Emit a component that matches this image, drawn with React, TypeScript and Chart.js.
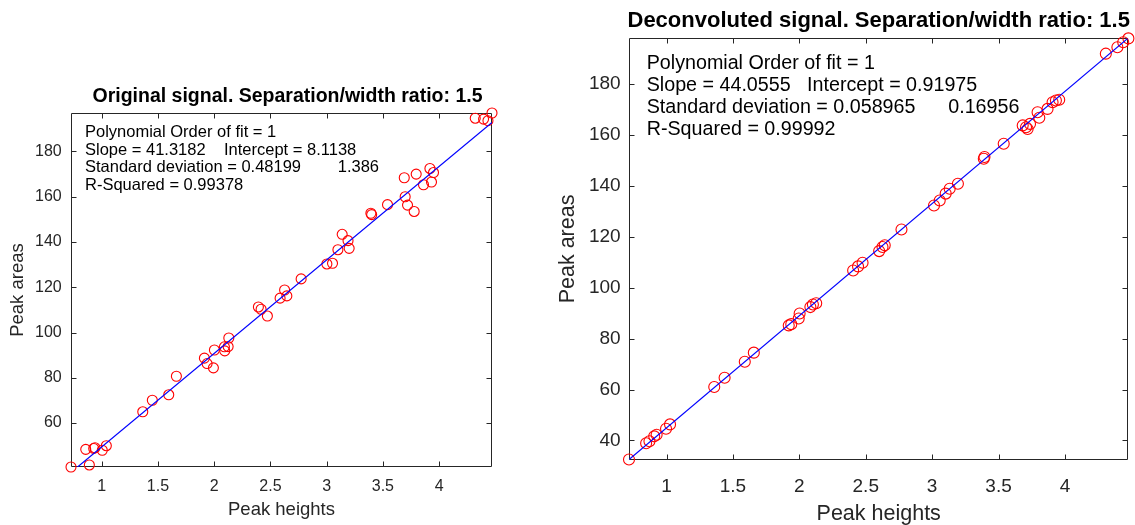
import { useEffect, useRef } from "react";
import { Chart, registerables } from "chart.js";

Chart.register(...registerables);

const FONT = "'Liberation Sans', Arial, Helvetica, sans-serif";
const AXIS_COLOR = "#262626";

// ---- shared tick labels ----
const xTicks = [1, 1.5, 2, 2.5, 3, 3.5, 4];
const origYTicks = [60, 80, 100, 120, 140, 160, 180];
const decYTicks = [40, 60, 80, 100, 120, 140, 160, 180];

// ---- Original signal ----
const origTitle = "Original signal. Separation/width ratio: 1.5";
const origHeights = [
  0.727, 0.858, 0.89, 0.929, 0.94, 1.005, 1.041, 1.365, 1.45, 1.596, 1.664, 1.913,
  1.937, 1.993, 2.002, 2.091, 2.094, 2.124, 2.13, 2.393, 2.417, 2.473, 2.586, 2.626,
  2.646, 2.773, 3.002, 3.052, 3.1, 3.138, 3.19, 3.2, 3.393, 3.4, 3.541, 3.69,
  3.698, 3.719, 3.778, 3.796, 3.861, 3.918, 3.932, 3.95, 4.321, 4.395, 4.434, 4.47,
];
const origAreas = [
  40.6, 48.4, 41.5, 48.8, 49.1, 48.0, 50.0, 65.0, 70.1, 72.5, 80.7, 88.7,
  86.3, 84.4, 92.3, 93.7, 91.9, 93.8, 97.6, 111.3, 110.3, 107.3, 115.2, 118.8,
  116.2, 123.7, 130.3, 130.6, 136.6, 143.4, 140.6, 137.2, 152.7, 152.1, 156.5, 168.4,
  160.0, 156.3, 153.5, 170.0, 165.3, 172.5, 166.5, 170.7, 194.7, 194.3, 193.6, 197.0,
];
const origFitX = [0.727, 4.47];
const origFitY = [38.2, 192.8];
const origXRange = [0.727, 4.47];
const origYRange = [40.6, 197.0];
const origText = [
  "Polynomial Order of fit = 1",
  "Slope = 41.3182    Intercept = 8.1138",
  "Standard deviation = 0.48199        1.386",
  "R-Squared = 0.99378",
];

// ---- Deconvoluted signal ----
const decTitle = "Deconvoluted signal. Separation/width ratio: 1.5";
const decHeights = [
  0.717, 0.846, 0.871, 0.907, 0.925, 0.996, 1.026, 1.359, 1.437, 1.589, 1.657, 1.92,
  1.939, 1.995, 2.002, 2.083, 2.102, 2.127, 2.405, 2.442, 2.476, 2.601, 2.626, 2.643,
  2.769, 3.014, 3.057, 3.102, 3.132, 3.194, 3.389, 3.394, 3.539, 3.682, 3.707, 3.719,
  3.737, 3.794, 3.807, 3.869, 3.907, 3.932, 3.957, 4.308, 4.395, 4.439, 4.478,
];
const decAreas = [
  32.5, 38.9, 39.7, 41.6, 42.2, 44.6, 46.3, 61.0, 64.6, 70.9, 74.5, 85.2,
  85.7, 87.9, 89.9, 92.4, 93.4, 93.9, 106.8, 108.4, 109.8, 114.4, 116.0, 116.7,
  122.9, 132.3, 134.3, 137.0, 138.9, 140.9, 150.7, 151.4, 156.6, 163.8, 163.1, 162.4,
  164.4, 169.0, 166.8, 170.3, 172.9, 173.6, 173.9, 192.0, 194.5, 196.5, 198.0,
];
const decFitX = [0.717, 4.478];
const decFitY = [32.5, 198.2];
const decXRange = [0.717, 4.478];
const decYRange = [32.5, 198.0];
const decText = [
  "Polynomial Order of fit = 1",
  "Slope = 44.0555   Intercept = 0.91975",
  "Standard deviation = 0.058965      0.16956",
  "R-Squared = 0.99992",
];

const boxPlugin = {
  id: "matlabBox",
  beforeDatasetsDraw(chart: any, _args: any, opts: any) {
    const { ctx, chartArea: ca, scales } = chart;
    const L = Math.round(ca.left) + 0.5;
    const R = Math.round(ca.right) - 0.5;
    const T = Math.round(ca.top) + 0.5;
    const B = Math.round(ca.bottom) - 0.5;
    const tl = opts.tickLen;
    ctx.save();
    ctx.strokeStyle = AXIS_COLOR;
    ctx.lineWidth = 1;
    ctx.beginPath();
    ctx.rect(L, T, R - L, B - T);
    for (const v of opts.xTicks) {
      const px = Math.round(scales.x.getPixelForValue(v)) + 0.5;
      ctx.moveTo(px, B);
      ctx.lineTo(px, B - tl);
      ctx.moveTo(px, T);
      ctx.lineTo(px, T + tl);
    }
    for (const v of opts.yTicks) {
      const py = Math.round(scales.y.getPixelForValue(v)) + 0.5;
      ctx.moveTo(L, py);
      ctx.lineTo(L + tl, py);
      ctx.moveTo(R, py);
      ctx.lineTo(R - tl, py);
    }
    ctx.stroke();
    ctx.restore();
  },
  afterDraw(chart: any, _args: any, opts: any) {
    const { ctx, chartArea: ca } = chart;
    ctx.save();
    // axes title, centred over the plot box
    ctx.font = `bold ${opts.titleSize}px ${FONT}`;
    ctx.fillStyle = "#000";
    ctx.textAlign = "center";
    ctx.textBaseline = "middle";
    ctx.fillText(opts.title, (ca.left + ca.right) / 2 + opts.titleDx, opts.titleY);
    // statistics text block
    ctx.font = `${opts.fontSize}px ${FONT}`;
    ctx.textAlign = "left";
    opts.lines.forEach((s: string, i: number) => {
      ctx.fillText(s, ca.left + opts.dx, ca.top + opts.dy + i * opts.lh);
    });
    ctx.restore();
  },
};

type PanelCfg = {
  title: string;
  heights: number[];
  areas: number[];
  fitX: number[];
  fitY: number[];
  xRange: number[];
  yRange: number[];
  yTicks: number[];
  text: string[];
  width: number;
  padRight: number;
  padTop: number;
  titleSize: number;
  titleY: number;
  titleDx: number;
  yAxisWidth: number;
  yTitlePad: number;
  xAxisHeight: number;
  xTickPad: number;
  yTickPad: number;
  xTitlePadBottom: number;
  tickSize: number;
  labelSize: number;
  textSize: number;
  textDx: number;
  textDy: number;
  textLh: number;
  radius: number;
  tickLen: number;
};

function Panel({ cfg, left }: { cfg: PanelCfg; left: number }) {
  const ref = useRef<HTMLCanvasElement | null>(null);
  useEffect(() => {
    if (!ref.current) return;
    const points = cfg.heights.map((h, i) => ({ x: h, y: cfg.areas[i] }));
    const fit = cfg.fitX.map((x, i) => ({ x, y: cfg.fitY[i] }));
    const tickFont = { family: FONT, size: cfg.tickSize };
    const labelFont = { family: FONT, size: cfg.labelSize, lineHeight: 1 };
    const chart = new Chart(ref.current, {
      type: "scatter",
      data: {
        datasets: [
          {
            type: "line",
            data: fit,
            borderColor: "#0000ff",
            borderWidth: 1.2,
            pointRadius: 0,
            showLine: true,
            fill: false,
            clip: 0,
          } as any,
          {
            data: points,
            pointStyle: "circle",
            pointRadius: cfg.radius,
            pointBorderColor: "#ff0000",
            pointBackgroundColor: "rgba(0,0,0,0)",
            pointBorderWidth: 1.1,
            showLine: false,
            clip: false,
          } as any,
        ],
      },
      options: {
        animation: false,
        responsive: false,
        devicePixelRatio: 1,
        layout: { padding: { left: 0, right: cfg.padRight, top: cfg.padTop, bottom: 0 } },
        plugins: {
          legend: { display: false },
          tooltip: { enabled: false },
          title: { display: false },
          matlabBox: {
            xTicks,
            yTicks: cfg.yTicks,
            tickLen: cfg.tickLen,
            title: cfg.title,
            titleSize: cfg.titleSize,
            titleY: cfg.titleY,
            titleDx: cfg.titleDx,
            lines: cfg.text,
            fontSize: cfg.textSize,
            dx: cfg.textDx,
            dy: cfg.textDy,
            lh: cfg.textLh,
          },
        } as any,
        scales: {
          x: {
            type: "linear",
            min: cfg.xRange[0],
            max: cfg.xRange[1],
            afterBuildTicks: (s: any) => {
              s.ticks = xTicks.map((v) => ({ value: v }));
            },
            afterFit: (s: any) => {
              s.height = cfg.xAxisHeight;
            },
            ticks: {
              font: tickFont,
              color: AXIS_COLOR,
              padding: cfg.xTickPad,
              autoSkip: false,
              maxRotation: 0,
              minRotation: 0,
              callback: (v: any) => String(v),
            },
            grid: { display: false, drawTicks: false },
            border: { display: false },
            title: {
              display: true,
              text: "Peak heights",
              color: AXIS_COLOR,
              font: labelFont,
              padding: { top: 0, bottom: cfg.xTitlePadBottom },
            },
          },
          y: {
            type: "linear",
            min: cfg.yRange[0],
            max: cfg.yRange[1],
            afterBuildTicks: (s: any) => {
              s.ticks = cfg.yTicks.map((v) => ({ value: v }));
            },
            afterFit: (s: any) => {
              s.width = cfg.yAxisWidth;
            },
            ticks: {
              font: tickFont,
              color: AXIS_COLOR,
              padding: cfg.yTickPad,
              autoSkip: false,
              callback: (v: any) => String(v),
            },
            grid: { display: false, drawTicks: false },
            border: { display: false },
            title: {
              display: true,
              text: "Peak areas",
              color: AXIS_COLOR,
              font: labelFont,
              padding: { top: cfg.yTitlePad, bottom: 0 },
            },
          },
        },
      } as any,
      plugins: [boxPlugin as any],
    });
    return () => chart.destroy();
  }, [cfg]);
  return (
    <canvas
      ref={ref}
      width={cfg.width}
      height={525}
      style={{ position: "absolute", left, top: 0, width: cfg.width, height: 525 }}
    />
  );
}

const origCfg: PanelCfg = {
  title: origTitle,
  heights: origHeights,
  areas: origAreas,
  fitX: origFitX,
  fitY: origFitY,
  xRange: origXRange,
  yRange: origYRange,
  yTicks: origYTicks,
  text: origText,
  width: 540,
  padRight: 48,
  padTop: 113,
  titleSize: 19.5,
  titleY: 97,
  titleDx: 6,
  yAxisWidth: 71,
  yTitlePad: 9,
  xAxisHeight: 58,
  xTickPad: 10,
  yTickPad: 9.3,
  xTitlePadBottom: 5.5,
  tickSize: 16,
  labelSize: 18.5,
  textSize: 16.5,
  textDx: 14,
  textDy: 19.3,
  textLh: 17.8,
  radius: 5,
  tickLen: 5,
};

const decCfg: PanelCfg = {
  title: decTitle,
  heights: decHeights,
  areas: decAreas,
  fitX: decFitX,
  fitY: decFitY,
  xRange: decXRange,
  yRange: decYRange,
  yTicks: decYTicks,
  text: decText,
  width: 595,
  padRight: 6.5,
  padTop: 38.4,
  titleSize: 22,
  titleY: 20.5,
  titleDx: 0,
  yAxisWidth: 89,
  yTitlePad: 17.5,
  xAxisHeight: 65.5,
  xTickPad: 15.5,
  yTickPad: 8.4,
  xTitlePadBottom: 0,
  tickSize: 19,
  labelSize: 21.5,
  textSize: 19.7,
  textDx: 17.7,
  textDy: 25.5,
  textLh: 21.8,
  radius: 5.5,
  tickLen: 5,
};

export default function App() {
  return (
    <div
      style={{
        position: "absolute",
        left: 0,
        top: 0,
        width: 1135,
        height: 525,
        background: "#fff",
        overflow: "hidden",
      }}
    >
      <Panel cfg={origCfg} left={0} />
      <Panel cfg={decCfg} left={540} />
    </div>
  );
}
